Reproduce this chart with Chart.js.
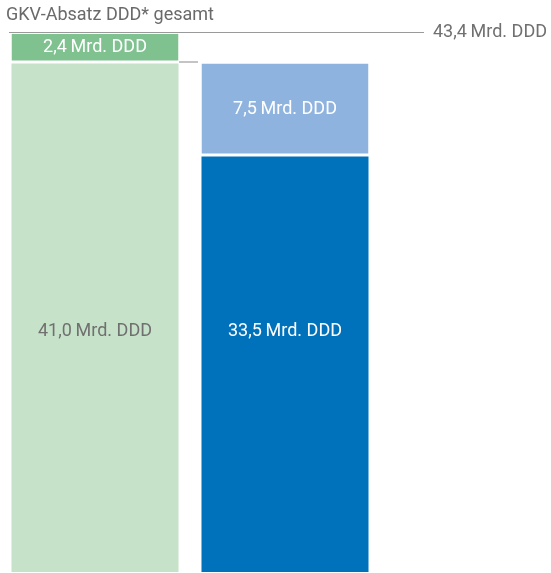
<!DOCTYPE html>
<html>
<head>
<meta charset="utf-8">
<script src="https://cdn.jsdelivr.net/npm/chart.js@4/dist/chart.umd.min.js"></script>
<style>
  html, body { margin: 0; padding: 0; background: #fff; }
  #wrap { width: 551px; height: 573px; }
</style>
</head>
<body>
<div id="wrap"><canvas id="absatzChart" width="551" height="573"></canvas></div>
<script>
// Absatz in Mrd. DDD
const categories = ['GKV gesamt', 'Aufteilung'];
const lowerValues = [41.0, 33.5];
const upperValues = [2.4, 7.5];
const titleText = 'GKV-Absatz DDD* gesamt';

const lowerColors = ['#c6e2c9', '#0072bc'];
const upperColors = ['#7fc290', '#8fb3df'];
const lowerTextColors = ['#707070', '#ffffff'];

function fmt(v) {
    return v.toFixed(1).replace('.', ',') + '\u2009Mrd. DDD';
}

const totals = lowerValues.map((v, i) => v + upperValues[i]);

// Beschriftungen, Summenlinie und Titel
const annotations = {
    id: 'annotations',
    afterDatasetsDraw(chart) {
        const ctx = chart.ctx;
        const y = chart.scales.y;
        const lowerMeta = chart.getDatasetMeta(0);
        const upperMeta = chart.getDatasetMeta(1);
        ctx.save();
        ctx.font = '18px Roboto, "DejaVu Sans", sans-serif';
        ctx.textAlign = 'center';
        ctx.textBaseline = 'middle';

        upperMeta.data.forEach((bar, i) => {
            ctx.fillStyle = '#ffffff';
            ctx.fillText(fmt(upperValues[i]), bar.x, (bar.y + bar.base) / 2 - 1);
        });
        lowerMeta.data.forEach((bar, i) => {
            ctx.fillStyle = lowerTextColors[i];
            ctx.fillText(fmt(lowerValues[i]), bar.x, 331);
        });

        // Linie zur Gesamtsumme
        const topY = Math.round(y.getPixelForValue(totals[0])) - 1.5;
        ctx.strokeStyle = '#9a9a9a';
        ctx.lineWidth = 1;
        ctx.beginPath();
        ctx.moveTo(9, topY);
        ctx.lineTo(424, topY);
        ctx.stroke();

        ctx.fillStyle = '#707070';
        ctx.textAlign = 'left';
        ctx.fillText(fmt(totals[0]), 433, topY);

        // kurze Verbindung zwischen den Balken
        const midY = Math.round(y.getPixelForValue(totals[1])) - 2;
        ctx.strokeStyle = '#b0b0b0';
        ctx.lineWidth = 1.5;
        ctx.beginPath();
        ctx.moveTo(179, midY);
        ctx.lineTo(198, midY);
        ctx.stroke();

        ctx.fillStyle = '#6a6a6a';
        ctx.fillText(titleText, 6, 15);
        ctx.restore();
    }
};

new Chart(document.getElementById('absatzChart'), {
    type: 'bar',
    data: {
        labels: categories,
        datasets: [{
            data: lowerValues,
            backgroundColor: lowerColors,
            borderWidth: 0,
            categoryPercentage: 1,
            barPercentage: 0.879
        }, {
            data: upperValues,
            backgroundColor: upperColors,
            borderColor: '#ffffff',
            borderWidth: { top: 0, left: 0, right: 0, bottom: 3 },
            borderSkipped: false,
            categoryPercentage: 1,
            barPercentage: 0.879
        }]
    },
    options: {
        responsive: false,
        animation: false,
        layout: { padding: { top: 0, right: 171, bottom: 1, left: 0 } },
        plugins: {
            legend: { display: false },
            tooltip: { enabled: false }
        },
        scales: {
            x: { stacked: true, display: false },
            y: { stacked: true, display: false, min: 0, max: 46.13 }
        }
    },
    plugins: [annotations]
});
</script>
</body>
</html>
